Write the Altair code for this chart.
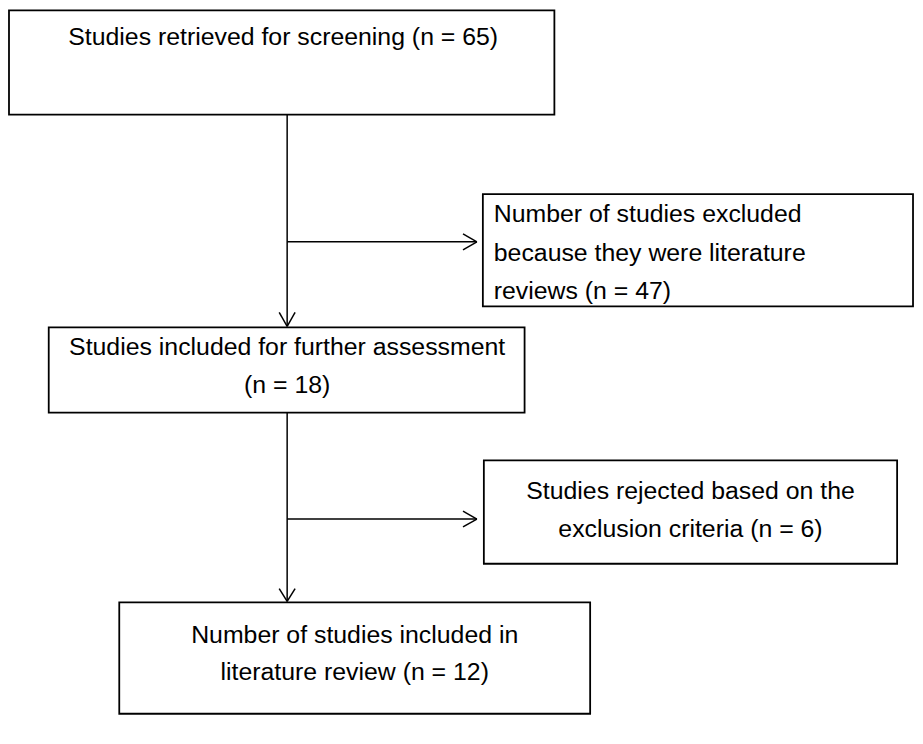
import altair as alt
import pandas as pd

# Box geometry (image pixel coordinates)
box_names = ["retrieved", "excluded", "further", "rejected", "included"]
box_x1 = [9, 486, 49, 487, 120]
box_x2 = [558, 919, 528, 903, 594]
box_y1 = [8, 193, 327, 461, 604]
box_y2 = [113, 306, 413, 565, 716]

# Text lines
text_lines = [
    "Studies retrieved for screening (n = 65)",
    "Number of studies excluded",
    "because they were literature",
    "reviews (n = 47)",
    "Studies included for further assessment",
    "(n = 18)",
    "Studies rejected based on the",
    "exclusion criteria (n = 6)",
    "Number of studies included in",
    "literature review (n = 12)",
]
text_x = [285, 497, 497, 497, 289, 289, 695, 695, 357, 357]
text_y = [35, 213, 252, 291, 347, 385, 492, 530, 637, 674]
text_align = ["center", "left", "left", "left", "center", "center", "center", "center", "center", "center"]

# Connector segments
seg_x1 = [289, 289, 289, 289, 466, 466, 466, 466, 281, 297, 281, 297]
seg_x2 = [289, 480, 289, 480, 480, 480, 480, 480, 289, 289, 289, 289]
seg_y1 = [113, 241, 413, 520, 233, 249, 512, 528, 312, 312, 590, 590]
seg_y2 = [326, 241, 603, 520, 241, 241, 520, 520, 326, 326, 603, 603]

boxes = pd.DataFrame({"name": box_names, "x1": box_x1, "x2": box_x2, "y1": box_y1, "y2": box_y2})
texts = pd.DataFrame({"t": text_lines, "x": text_x, "y": text_y, "align": text_align})
segs = pd.DataFrame({"x1": seg_x1, "x2": seg_x2, "y1": seg_y1, "y2": seg_y2})

xs = alt.Scale(domain=[8, 921], range=[0, 913])
ys = alt.Scale(domain=[8, 736], range=[0, 728])

rects = alt.Chart(boxes).mark_rect(fill="white", stroke="black", strokeWidth=1.8).encode(
    x=alt.X("x1:Q", scale=xs, axis=None),
    x2="x2:Q",
    y=alt.Y("y1:Q", scale=ys, axis=None),
    y2="y2:Q",
)

rules = alt.Chart(segs).mark_rule(color="black", strokeWidth=1.5).encode(
    x=alt.X("x1:Q", scale=xs, axis=None),
    x2="x2:Q",
    y=alt.Y("y1:Q", scale=ys, axis=None),
    y2="y2:Q",
)

def text_layer(align):
    return alt.Chart(texts[texts["align"] == align]).mark_text(
        font="Liberation Sans", fontSize=25, color="black", align=align, baseline="middle"
    ).encode(
        x=alt.X("x:Q", scale=xs, axis=None),
        y=alt.Y("y:Q", scale=ys, axis=None),
        text="t:N",
    )

chart = alt.layer(rects, rules, text_layer("center"), text_layer("left")).properties(
    width=913, height=728, padding=0, background="white",
    autosize=alt.AutoSizeParams(type="none")
).configure_view(stroke=None)

chart.save("out.html", embed_options={"renderer": "svg", "actions": False})
